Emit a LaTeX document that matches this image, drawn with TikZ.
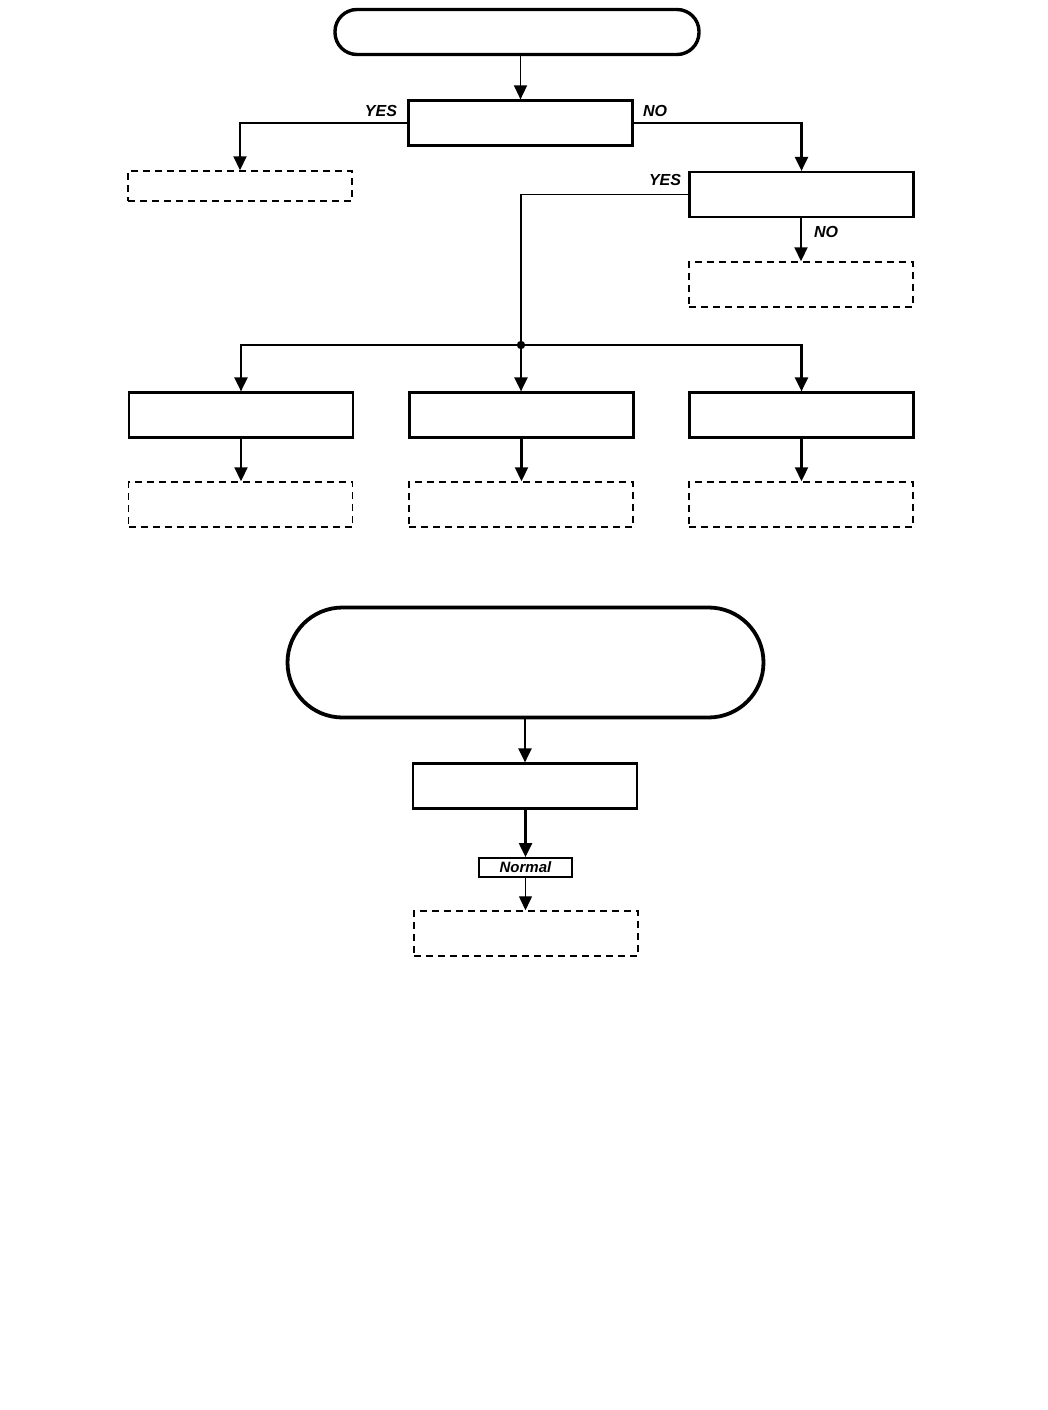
\documentclass[tikz,border=0pt]{standalone}
\usepackage{fontspec}
\newfontfamily\hvfont{Liberation Sans}
\usetikzlibrary{arrows.meta}
\begin{document}
\begin{tikzpicture}[x=1pt,y=-1pt,
  term/.style={draw,line width=3.4pt,rounded corners=22pt,minimum width=364pt,minimum height=45pt,inner sep=0pt},
  bigterm/.style={draw,line width=3.8pt,rounded corners=55pt,minimum width=476pt,minimum height=110pt,inner sep=0pt},
  procbox/.style={draw,line width=2.2pt,minimum width=224pt,minimum height=45pt,inner sep=0pt},
  dashbox/.style={draw,line width=1.5pt,dash pattern=on 7pt off 5pt,minimum width=224pt,minimum height=45pt,inner sep=0pt},
  lbl/.style={font=\hvfont\bfseries\itshape\fontsize{16}{16}\selectfont,inner sep=0pt},
  arr/.style={-{Triangle[width=13pt,length=14pt]},line width=2.2pt},
  thinarr/.style={-{Triangle[width=13pt,length=14pt]},line width=1.4pt},
  conn/.style={line width=1.3pt}
]
\useasboundingbox (0,0) rectangle (1048,1410);
% top part
\node[term] (t1) at (517,32) {};
\node[procbox] (b1) at (520.5,123) {};
\node[dashbox,minimum height=30pt] (d1) at (240,186) {};
\node[procbox] (b2) at (801.5,194.5) {};
\node[dashbox] (d2) at (801,284.5) {};
\coordinate (j) at (521,345);
\node[procbox] (r1) at (241,415) {};
\node[procbox] (r2) at (521.5,415) {};
\node[procbox] (r3) at (801.5,415) {};
\node[dashbox] (e1) at (240.5,504.5) {};
\node[dashbox] (e2) at (521,504.5) {};
\node[dashbox] (e3) at (801,504.5) {};
% labels
\node[lbl] (yes1) at (381,111) {YES};
\node[lbl] (no1) at (655,111) {NO};
\node[lbl] (yes2) at (665,180) {YES};
\node[lbl] (no2) at (826,232) {NO};
% connectors
\draw[thinarr] (t1.south -| b1.north) -- (b1.north);
\draw[arr] (b1.west) -| (d1.north);
\draw[arr] (b1.east) -| (b2.north);
\draw[arr] (b2.south -| d2.north) -- (d2.north);
\draw[conn] (b2.west) -| (j);
\fill (j) circle (4.2pt);
\draw[arr] (j) -| (r1.north);
\draw[arr] (j) -- (j |- r2.north);
\draw[arr] (j) -| (r3.north);
\draw[arr] (r1.south) -- (r1.south |- e1.north);
\draw[arr] (r2.south) -- (r2.south |- e2.north);
\draw[arr] (r3.south) -- (r3.south |- e3.north);
% bottom part
\node[bigterm] (t2) at (525.5,662.5) {};
\node[procbox] (b3) at (525,786) {};
\node[draw,line width=1.8pt,minimum width=93pt,minimum height=19pt,inner sep=0pt,font=\hvfont\bfseries\itshape\fontsize{15}{15}\selectfont] (nm) at (525.5,867.5) {Normal};
\node[dashbox] (d3) at (526,933.5) {};
\draw[arr] (t2.south -| b3.north) -- (b3.north);
\draw[arr] (b3.south -| nm.north) -- (nm.north);
\draw[thinarr] (nm.south) -- (nm.south |- d3.north);
\end{tikzpicture}
\end{document}
